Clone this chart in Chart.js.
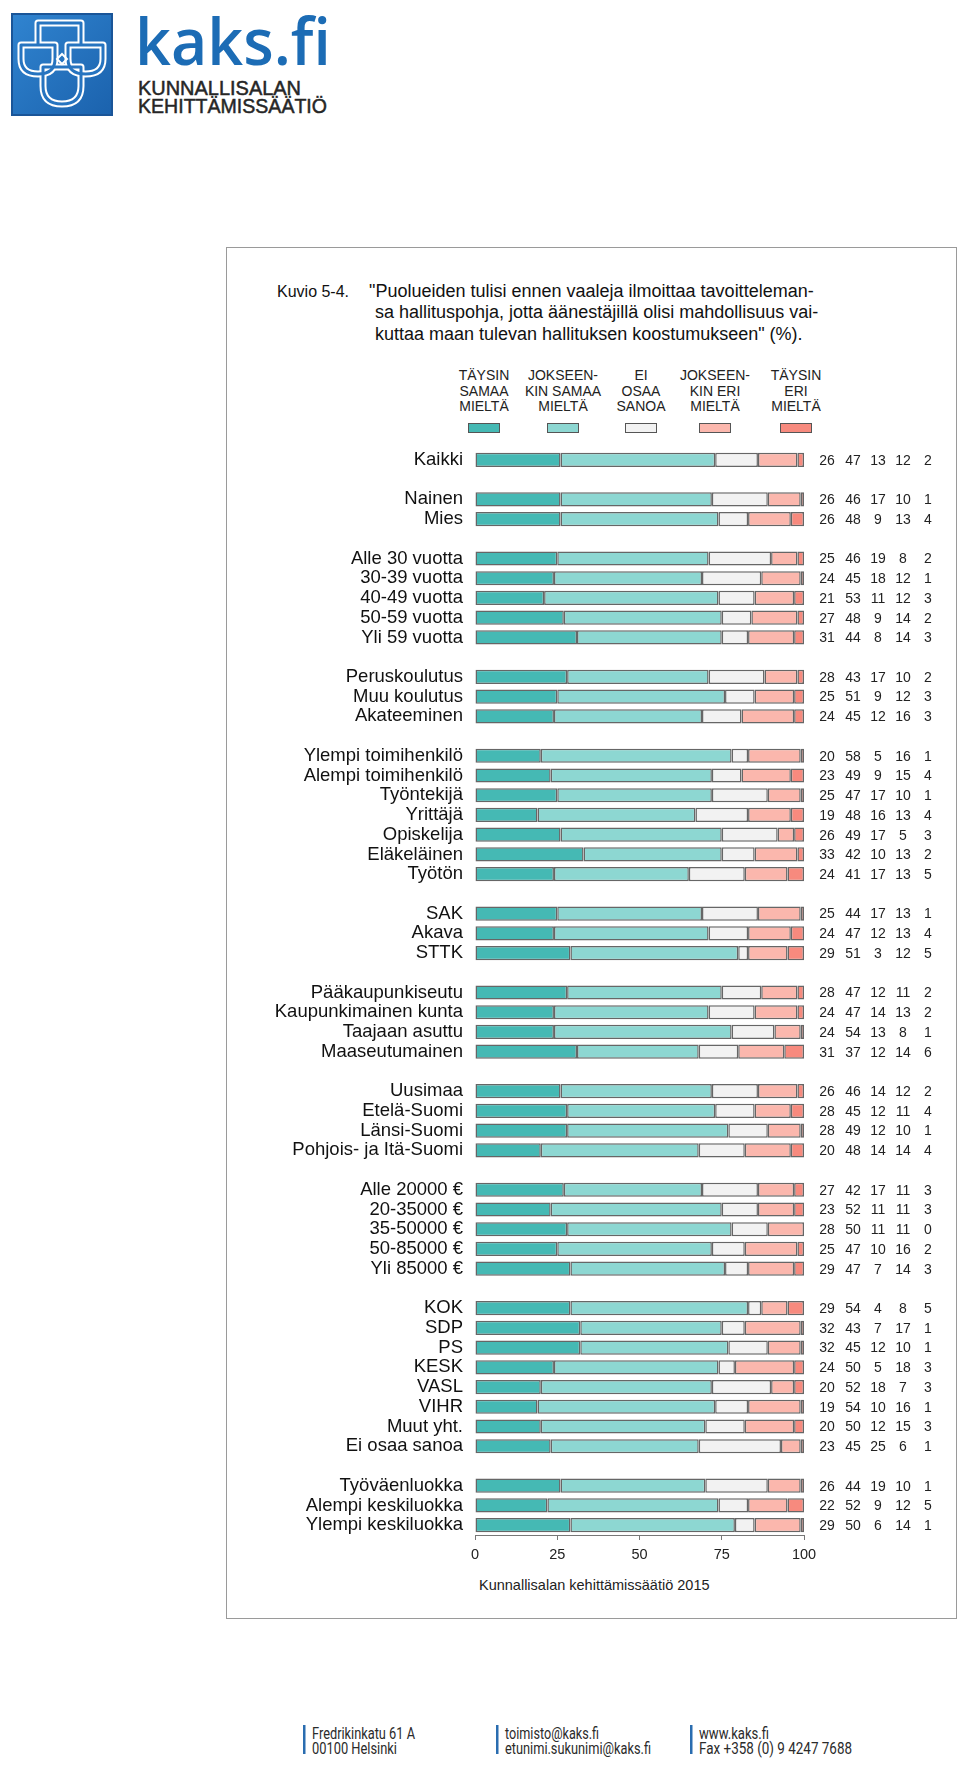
<!DOCTYPE html>
<html>
<head>
<meta charset="utf-8">
<script src="https://cdn.jsdelivr.net/npm/chart.js@4.4.0/dist/chart.umd.min.js"></script>
<style>
body { margin:0; width:960px; height:1766px; background:#fff; position:relative; overflow:hidden;
  font-family:"Liberation Sans", Arial, sans-serif; color:#111; }
.abs { position:absolute; white-space:nowrap; }
#box { position:absolute; left:226px; top:247px; width:729px; height:1370px; border:1.5px solid #9a9a9a; }
.t { position:absolute; font-size:18px; line-height:22px; white-space:nowrap; }
.leg { position:absolute; top:368px; width:110px; margin-left:-55px; text-align:center; font-size:14px; line-height:15.5px; color:#222; }
.sw { position:absolute; top:423px; width:30px; height:8px; margin-left:-16px; border:1px solid #555; }
#chart { position:absolute; left:0; top:420px; }
</style>
</head>
<body>

<svg class="abs" style="left:0;top:0" width="340" height="130">
  <defs>
    <linearGradient id="g" x1="0" y1="0" x2="1" y2="1">
      <stop offset="0" stop-color="#3084d0"/>
      <stop offset="1" stop-color="#1b62ad"/>
    </linearGradient>
  </defs>
  <rect x="12" y="14" width="100" height="101" fill="url(#g)" stroke="#1a5598" stroke-width="2"/>
  <g transform="translate(12,14)" fill="none" stroke="#fff" stroke-width="7" stroke-linejoin="round">
    <path d="M26 31 V9 H69 V31"/>
    <path d="M9 31 H43 V45 Q43 60 26 60 Q9 60 9 45 Z"/>
    <path d="M56 31 H91 V45 Q91 60 73.5 60 Q56 60 56 45 Z"/>
    <path d="M31 53 V72 Q31 90 50 90 Q69 90 69 72 V53 Z"/>
  </g>
  <g transform="translate(12,14)" fill="none" stroke="#2674c0" stroke-width="3" stroke-linejoin="round">
    <path d="M26 31 V9 H69 V31"/>
    <path d="M9 31 H43 V45 Q43 60 26 60 Q9 60 9 45 Z"/>
    <path d="M56 31 H91 V45 Q91 60 73.5 60 Q56 60 56 45 Z"/>
    <path d="M31 53 V72 Q31 90 50 90 Q69 90 69 72 V53 Z"/>
  </g>
  <path transform="translate(12,14)" d="M50 40 L55 45 L50 50 L45 45 Z" fill="none" stroke="#fff" stroke-width="2"/>
  <text x="135" y="65" font-family="Open Sans" font-weight="600" font-size="66" fill="#1c6cb5"
        textLength="196" lengthAdjust="spacingAndGlyphs">kaks.fi</text>
  <g font-family="Liberation Sans" font-size="20.5" fill="#262626" stroke="#262626" stroke-width="0.5">
    <text x="138" y="95" textLength="163" lengthAdjust="spacingAndGlyphs">KUNNALLISALAN</text>
    <text x="138" y="113" textLength="189" lengthAdjust="spacingAndGlyphs">KEHITTÄMISSÄÄTIÖ</text>
  </g>
</svg>

<div id="box"></div>

<div class="t" style="left:277px;top:281px;font-size:16px;">Kuvio 5-4.</div>
<div class="t" style="left:369px;top:280px;">"Puolueiden tulisi ennen vaaleja ilmoittaa tavoitteleman-</div>
<div class="t" style="left:375px;top:301px;">sa hallituspohja, jotta äänestäjillä olisi mahdollisuus vai-</div>
<div class="t" style="left:375px;top:323px;">kuttaa maan tulevan hallituksen koostumukseen" (%).</div>

<div id="legend"></div>

<canvas id="chart" width="960" height="1150"></canvas>

<div class="abs" style="left:479px;top:1577px;font-size:14.5px;color:#222;">Kunnallisalan kehittämissäätiö 2015</div>

<svg class="abs" style="left:0;top:1700px" width="960" height="66">
  <g fill="#2a6db0">
    <rect x="303" y="25" width="2.5" height="29"/>
    <rect x="496" y="25" width="2.5" height="29"/>
    <rect x="690" y="25" width="2.5" height="29"/>
  </g>
  <g font-family="Liberation Sans Narrow, Roboto, sans-serif" font-size="17" fill="#2b2b2b">
    <text x="312" y="38.5" textLength="103" lengthAdjust="spacingAndGlyphs">Fredrikinkatu 61 A</text>
    <text x="312" y="54" textLength="85" lengthAdjust="spacingAndGlyphs">00100 Helsinki</text>
    <text x="505" y="38.5" textLength="94" lengthAdjust="spacingAndGlyphs">toimisto@kaks.fi</text>
    <text x="505" y="54" textLength="146" lengthAdjust="spacingAndGlyphs">etunimi.sukunimi@kaks.fi</text>
    <text x="699" y="38.5" textLength="70" lengthAdjust="spacingAndGlyphs">www.kaks.fi</text>
    <text x="699" y="54" textLength="153" lengthAdjust="spacingAndGlyphs">Fax +358 (0) 9 4247 7688</text>
  </g>
</svg>

<script>
// rows, '' = empty slot between groups
const labels = [
  'Kaikki', '',
  'Nainen', 'Mies', '',
  'Alle 30 vuotta', '30-39 vuotta', '40-49 vuotta', '50-59 vuotta', 'Yli 59 vuotta', '',
  'Peruskoulutus', 'Muu koulutus', 'Akateeminen', '',
  'Ylempi toimihenkilö', 'Alempi toimihenkilö', 'Työntekijä', 'Yrittäjä', 'Opiskelija', 'Eläkeläinen', 'Työtön', '',
  'SAK', 'Akava', 'STTK', '',
  'Pääkaupunkiseutu', 'Kaupunkimainen kunta', 'Taajaan asuttu', 'Maaseutumainen', '',
  'Uusimaa', 'Etelä-Suomi', 'Länsi-Suomi', 'Pohjois- ja Itä-Suomi', '',
  'Alle 20000 €', '20-35000 €', '35-50000 €', '50-85000 €', 'Yli 85000 €', '',
  'KOK', 'SDP', 'PS', 'KESK', 'VASL', 'VIHR', 'Muut yht.', 'Ei osaa sanoa', '',
  'Työväenluokka', 'Alempi keskiluokka', 'Ylempi keskiluokka'
];

const taysinSamaa = [26,null, 26,26,null, 25,24,21,27,31,null, 28,25,24,null, 20,23,25,19,26,33,24,null,
  25,24,29,null, 28,24,24,31,null, 26,28,28,20,null, 27,23,28,25,29,null, 29,32,32,24,20,19,20,23,null, 26,22,29];
const jokseenkinSamaa = [47,null, 46,48,null, 46,45,53,48,44,null, 43,51,45,null, 58,49,47,48,49,42,41,null,
  44,47,51,null, 47,47,54,37,null, 46,45,49,48,null, 42,52,50,47,47,null, 54,43,45,50,52,54,50,45,null, 44,52,50];
const eiOsaa = [13,null, 17,9,null, 19,18,11,9,8,null, 17,9,12,null, 5,9,17,16,17,10,17,null,
  17,12,3,null, 12,14,13,12,null, 14,12,12,14,null, 17,11,11,10,7,null, 4,7,12,5,18,10,12,25,null, 19,9,6];
const jokseenkinEri = [12,null, 10,13,null, 8,12,12,14,14,null, 10,12,16,null, 16,15,10,13,5,13,13,null,
  13,13,12,null, 11,13,8,14,null, 12,11,10,14,null, 11,11,11,16,14,null, 8,17,10,18,7,16,15,6,null, 10,12,14];
const taysinEri = [2,null, 1,4,null, 2,1,3,2,3,null, 2,3,3,null, 1,4,1,4,3,2,5,null,
  1,4,5,null, 2,2,1,6,null, 2,4,1,4,null, 3,3,0,2,3,null, 5,1,1,3,3,1,3,1,null, 1,5,1];

const seriesNames = ['Täysin samaa mieltä', 'Jokseenkin samaa mieltä', 'Ei osaa sanoa', 'Jokseenkin eri mieltä', 'Täysin eri mieltä'];
const legendLines = [
  ['TÄYSIN', 'SAMAA', 'MIELTÄ'],
  ['JOKSEEN-', 'KIN SAMAA', 'MIELTÄ'],
  ['EI', 'OSAA', 'SANOA'],
  ['JOKSEEN-', 'KIN ERI', 'MIELTÄ'],
  ['TÄYSIN', 'ERI', 'MIELTÄ']
];
const xTicks = [0, 25, 50, 75, 100];

const colors = ['#45b9b4', '#8dd7d2', '#f2f2f2', '#fbb7ad', '#f78a7e'];
const series = [taysinSamaa, jokseenkinSamaa, eiOsaa, jokseenkinEri, taysinEri];

// legend (html)
const legendX = [484, 563, 641, 715, 796];
let leg = document.getElementById('legend');
legendLines.forEach((lines, k) => {
  let d = document.createElement('div');
  d.className = 'leg';
  d.style.left = legendX[k] + 'px';
  d.innerHTML = lines.join('<br>');
  leg.appendChild(d);
  let s = document.createElement('div');
  s.className = 'sw';
  s.style.left = legendX[k] + 'px';
  s.style.background = colors[k];
  leg.appendChild(s);
});

// numbers to the right of the bars
const valueCols = [23, 49, 74, 99, 124];
const valueText = {
  id: 'valueText',
  afterDatasetsDraw(chart) {
    const { ctx, chartArea, scales } = chart;
    ctx.save();
    ctx.font = '14px "Liberation Sans", Arial, sans-serif';
    ctx.fillStyle = '#222';
    ctx.textAlign = 'center';
    ctx.textBaseline = 'middle';
    labels.forEach((lab, i) => {
      if (!lab) return;
      let y = scales.y.getPixelForValue(i);
      series.forEach((s, k) => {
        ctx.fillText(String(s[i]), chartArea.right + valueCols[k], y + 1);
      });
    });
    ctx.restore();
  }
};

Chart.defaults.font.family = '"Liberation Sans", Arial, sans-serif';

new Chart(document.getElementById('chart'), {
  type: 'bar',
  data: {
    labels: labels,
    datasets: series.map((s, k) => ({
      label: seriesNames[k],
      data: s,
      backgroundColor: colors[k],
      borderColor: '#666',
      borderWidth: 1.5,
      borderSkipped: false,
      barPercentage: 0.72,
      categoryPercentage: 1
    }))
  },
  options: {
    indexAxis: 'y',
    responsive: false,
    animation: false,
    events: [],
    layout: { padding: { top: 30, right: 156, bottom: 0, left: 0 } },
    plugins: { legend: { display: false }, tooltip: { enabled: false } },
    scales: {
      x: {
        stacked: true,
        min: 0,
        max: 100,
        afterBuildTicks: (s) => { s.ticks = xTicks.map(v => ({ value: v })); },
        afterFit: (s) => { s.height = 35; },
        grid: { drawOnChartArea: false, color: '#777', tickLength: 5 },
        border: { color: '#777' },
        ticks: { padding: 6, color: '#222', font: { size: 14.5 }, maxRotation: 0 }
      },
      y: {
        stacked: true,
        afterFit: (s) => { s.width = 475; },
        grid: { display: false, drawTicks: false },
        border: { display: false },
        ticks: { autoSkip: false, padding: 12, color: '#111', font: { size: 18.5 } }
      }
    }
  },
  plugins: [valueText]
});
</script>
</body>
</html>
